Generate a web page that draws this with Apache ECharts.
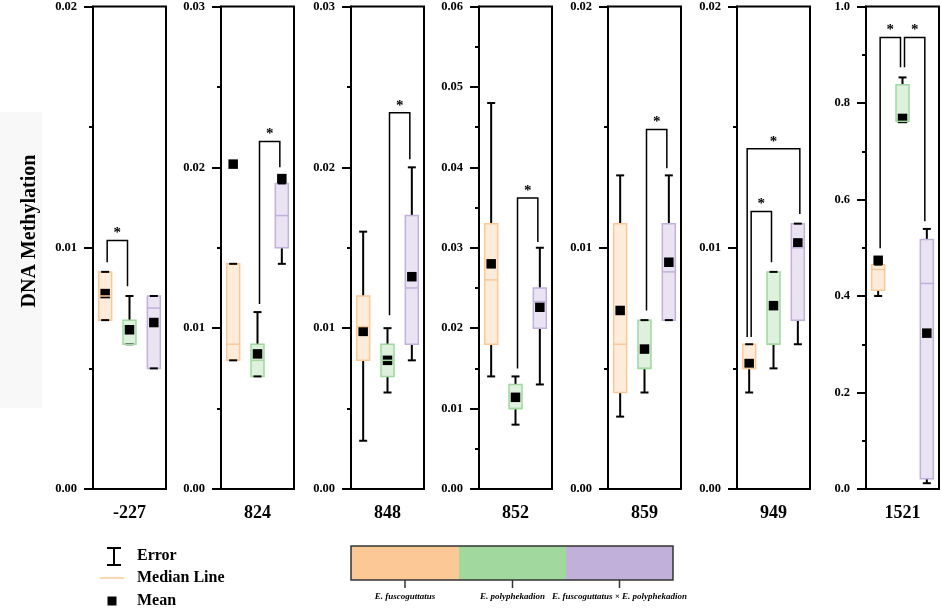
<!DOCTYPE html>
<html>
<head>
<meta charset="utf-8">
<script src="https://cdn.jsdelivr.net/npm/echarts@6/dist/echarts.min.js"></script>
<style>
  html, body { margin: 0; padding: 0; background: #fff; }
  #chart { width: 941px; height: 613px; }
</style>
</head>
<body>
<div id="chart"></div>
<script>
/* data */
var sites = ['-227', '824', '848', '852', '859', '949', '1521'];
var groups = ['E. fuscoguttatus', 'E. polyphekadion', 'E. fuscoguttatus \u00d7 E. polyphekadion'];
var yMax = [0.02, 0.03, 0.03, 0.06, 0.02, 0.02, 1.0];
var yStep = [0.01, 0.01, 0.01, 0.01, 0.01, 0.01, 0.2];
var tickDecimals = [2, 2, 2, 2, 2, 2, 1];

// per site: [whisker low, Q1, median, Q3, whisker high, mean]
var fusco = [
  [0.007, 0.007, 0.008, 0.009, 0.009, 0.0081],
  [0.008, 0.008, 0.009, 0.014, 0.014, 0.0202],
  [0.003, 0.008, 0.0101, 0.012, 0.016, 0.0098],
  [0.014, 0.018, 0.026, 0.033, 0.048, 0.028],
  [0.003, 0.004, 0.006, 0.011, 0.013, 0.0074],
  [0.004, 0.005, 0.005, 0.006, 0.006, 0.0052],
  [0.400, 0.412, 0.455, 0.465, 0.465, 0.474]
];
var poly = [
  [0.006, 0.006, 0.006, 0.007, 0.008, 0.0066],
  [0.007, 0.007, 0.008, 0.009, 0.011, 0.0084],
  [0.006, 0.007, 0.008, 0.009, 0.010, 0.008],
  [0.008, 0.010, 0.010, 0.013, 0.014, 0.0114],
  [0.004, 0.005, 0.005, 0.007, 0.007, 0.0058],
  [0.005, 0.006, 0.006, 0.009, 0.009, 0.0076],
  [0.762, 0.762, 0.762, 0.838, 0.853, 0.768]
];
var hybrid = [
  [0.005, 0.005, 0.0075, 0.008, 0.008, 0.0069],
  [0.014, 0.015, 0.017, 0.019, 0.019, 0.0193],
  [0.008, 0.009, 0.0125, 0.017, 0.020, 0.0132],
  [0.013, 0.020, 0.0233, 0.025, 0.030, 0.0226],
  [0.007, 0.007, 0.009, 0.011, 0.013, 0.0094],
  [0.006, 0.007, 0.010, 0.011, 0.011, 0.0102],
  [0.012, 0.021, 0.426, 0.517, 0.539, 0.323]
];

// significance brackets: [site, group a, group b, bar level, leg end a, leg end b]
var brackets = [
  [0, 0, 1, 0.0103, 0.0094, 0.0084],
  [1, 1, 2, 0.0216, 0.0115, 0.0200],
  [2, 1, 2, 0.0234, 0.0108, 0.0205],
  [3, 1, 2, 0.0362, 0.0150, 0.0307],
  [4, 1, 2, 0.0149, 0.0074, 0.0133],
  [5, 0, 1, 0.0115, 0.0063, 0.0094],
  [5, 0, 2, 0.0141, 0.0063, 0.0114],
  [6, 0, 1, 0.936, 0.499, 0.874],
  [6, 1, 2, 0.936, 0.874, 0.555]
];

var groupColors = ['#fbc896', '#a0d89e', '#c1b0d9'];
var groupFills = ['rgba(251,200,150,0.35)', 'rgba(160,216,158,0.35)', 'rgba(193,176,217,0.35)'];
var serif = '"Liberation Serif", "DejaVu Serif", serif';

var chart = echarts.init(document.getElementById('chart'));

var panelLeft = [93, 221, 351, 479, 608, 737, 866];
var grids = [], xAxes = [], yAxes = [], series = [];

function renderBox(params, api) {
  var g = api.value(0);
  var lo = api.coord([g, api.value(1)]);
  var q1 = api.coord([g, api.value(2)]);
  var md = api.coord([g, api.value(3)]);
  var q3 = api.coord([g, api.value(4)]);
  var hi = api.coord([g, api.value(5)]);
  var mn = api.coord([g, api.value(6)]);
  var x = lo[0], hw = 6.5, cw = 4, ms = 4.75;
  var black = { stroke: '#000', lineWidth: 2 };
  return {
    type: 'group',
    children: [
      { type: 'line', shape: { x1: x, y1: q1[1], x2: x, y2: lo[1] }, style: black },
      { type: 'line', shape: { x1: x, y1: q3[1], x2: x, y2: hi[1] }, style: black },
      { type: 'rect', shape: { x: x - hw, y: q3[1], width: hw * 2, height: q1[1] - q3[1] },
        style: { fill: groupFills[g], stroke: groupColors[g], lineWidth: 1.5 } },
      { type: 'line', shape: { x1: x - cw, y1: lo[1], x2: x + cw, y2: lo[1] }, style: black },
      { type: 'line', shape: { x1: x - cw, y1: hi[1], x2: x + cw, y2: hi[1] }, style: black },
      { type: 'rect', shape: { x: x - ms, y: mn[1] - ms, width: ms * 2, height: ms * 2 }, style: { fill: '#000' } },
      { type: 'line', shape: { x1: x - hw, y1: md[1], x2: x + hw, y2: md[1] },
        style: { stroke: groupColors[g], lineWidth: 1.5 } }
    ]
  };
}

function renderBracket(params, api) {
  var a = api.value(0), b = api.value(1);
  var d = (b - a === 1) ? 2 : -2;
  var p1 = api.coord([a, api.value(3)]);
  var t1 = api.coord([a, api.value(2)]);
  var t2 = api.coord([b, api.value(2)]);
  var p2 = api.coord([b, api.value(4)]);
  var x1 = p1[0] + d, x2 = p2[0] - d;
  return {
    type: 'group',
    children: [
      { type: 'polyline', shape: { points: [[x1, p1[1]], [x1, t1[1]], [x2, t2[1]], [x2, p2[1]]] },
        style: { stroke: '#000', lineWidth: 1.5, fill: null } },
      { type: 'text', x: (x1 + x2) / 2, y: t1[1] - 7,
        style: { text: '*', font: 'bold 15px ' + serif, fill: '#000', align: 'center', verticalAlign: 'middle' } }
    ]
  };
}

sites.forEach(function (site, i) {
  grids.push({ left: panelLeft[i], top: 6, width: 73, height: 483, show: true,
    borderColor: '#000', borderWidth: 2, backgroundColor: 'transparent' });
  xAxes.push({
    gridIndex: i, type: 'category', data: groups,
    axisLine: { show: false }, axisTick: { show: false }, axisLabel: { show: false },
    name: site, nameLocation: 'middle', nameGap: 15,
    nameTextStyle: { fontFamily: serif, fontWeight: 'bold', fontSize: 18, color: '#000' }
  });
  yAxes.push({
    gridIndex: i, type: 'value', min: 0, max: yMax[i], interval: yStep[i],
    axisLine: { show: true, lineStyle: { color: '#000', width: 2 } },
    axisTick: { show: true, length: 9, lineStyle: { color: '#000', width: 2 } },
    minorTick: { show: true, splitNumber: 2, length: 4, lineStyle: { color: '#000', width: 2 } },
    splitLine: { show: false },
    axisLabel: {
      margin: 16, color: '#000', fontFamily: serif, fontWeight: 'bold', fontSize: 12.5,
      formatter: (function (dec) { return function (v) { return v.toFixed(dec); }; })(tickDecimals[i])
    }
  });
  series.push({
    type: 'custom', xAxisIndex: i, yAxisIndex: i, renderItem: renderBox,
    data: [[0].concat(fusco[i]), [1].concat(poly[i]), [2].concat(hybrid[i])],
    encode: { x: 0, y: [1, 2, 3, 4, 5, 6] }, silent: true
  });
  series.push({
    type: 'custom', xAxisIndex: i, yAxisIndex: i, renderItem: renderBracket,
    data: brackets.filter(function (r) { return r[0] === i; }).map(function (r) { return r.slice(1); }),
    encode: { x: [0, 1], y: [2, 3, 4] }, silent: true, z: 3
  });
});

/* legend block and colour key */
var legendFont = 'bold 16px ' + serif;
var graphics = [
  { type: 'rect', z: -10, shape: { x: 0, y: 112, width: 42, height: 296 }, style: { fill: '#f8f8f8' } },
  { type: 'text', x: 30, y: 231, rotation: Math.PI / 2,
    style: { text: 'DNA Methylation', font: 'bold 20px ' + serif, fill: '#000', align: 'center', verticalAlign: 'middle' } },
  // error symbol
  { type: 'polyline', shape: { points: [[114, 548], [114, 565]] }, style: { stroke: '#000', lineWidth: 2 } },
  { type: 'line', shape: { x1: 107, y1: 548, x2: 121, y2: 548 }, style: { stroke: '#000', lineWidth: 2 } },
  { type: 'line', shape: { x1: 107, y1: 565, x2: 121, y2: 565 }, style: { stroke: '#000', lineWidth: 2 } },
  { type: 'text', x: 137, y: 556, style: { text: 'Error', font: legendFont, fill: '#000', verticalAlign: 'middle' } },
  // median symbol
  { type: 'line', shape: { x1: 100, y1: 578, x2: 124, y2: 578 }, style: { stroke: groupColors[0], lineWidth: 1.5 } },
  { type: 'text', x: 137, y: 578, style: { text: 'Median Line', font: legendFont, fill: '#000', verticalAlign: 'middle' } },
  // mean symbol
  { type: 'rect', shape: { x: 107.5, y: 596.5, width: 9, height: 9 }, style: { fill: '#000' } },
  { type: 'text', x: 137, y: 601, style: { text: 'Mean', font: legendFont, fill: '#000', verticalAlign: 'middle' } }
];
var barX = [351, 459, 566, 673];
groups.forEach(function (g, k) {
  graphics.push({ type: 'rect', shape: { x: barX[k], y: 546, width: barX[k + 1] - barX[k], height: 34 },
    style: { fill: groupColors[k] } });
  var cx = (barX[k] + barX[k + 1]) / 2;
  graphics.push({ type: 'line', shape: { x1: cx, y1: 580, x2: cx, y2: 588 }, style: { stroke: '#333', lineWidth: 1.5 } });
  graphics.push({ type: 'text', x: cx, y: 597,
    style: { text: g, font: 'italic bold 9px ' + serif, fill: '#000', align: 'center', verticalAlign: 'middle' } });
});
graphics.push({ type: 'rect', shape: { x: 351, y: 546, width: 322, height: 34 },
  style: { fill: null, stroke: '#333', lineWidth: 1.5 } });

chart.setOption({
  animation: false,
  backgroundColor: '#fff',
  grid: grids,
  xAxis: xAxes,
  yAxis: yAxes,
  series: series,
  graphic: graphics
});
</script>
</body>
</html>
